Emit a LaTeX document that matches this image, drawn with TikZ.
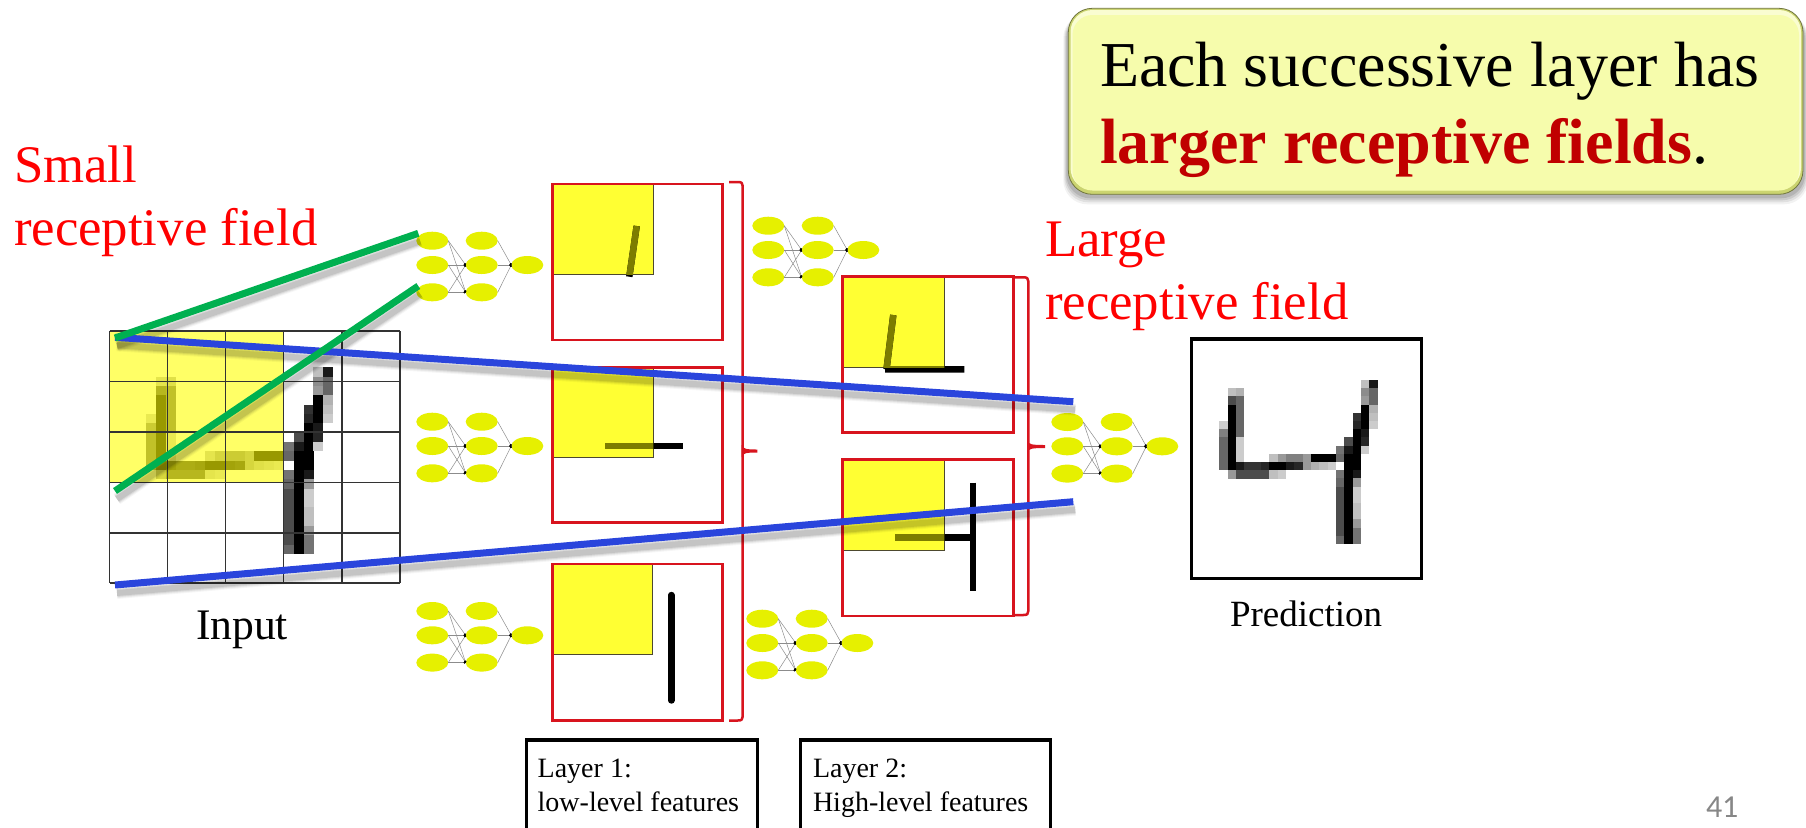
\documentclass[tikz,border=0pt]{standalone}
\usepackage{fontspec}
\setmainfont{Liberation Serif}
\newfontfamily\pagenofont{Carlito}
\usetikzlibrary{shapes.geometric,calc,arrows.meta}

\definecolor{cellyellow}{HTML}{FFFF00}
\definecolor{mapyellow}{HTML}{FFFF33}
\definecolor{mapolive}{HTML}{7D7D00}
\definecolor{neuronfill}{HTML}{E6F000}
\definecolor{boxred}{HTML}{D8141E}
\definecolor{linkblue}{HTML}{2A45DC}
\definecolor{linkgreen}{HTML}{00B050}
\definecolor{calloutfill}{HTML}{F6FCAC}
\definecolor{calloutedge}{HTML}{CBD470}
\definecolor{strongred}{HTML}{C00000}

\tikzset{
  x=.5pt, y=-.5pt,
  neuron/.style={ellipse, fill=neuronfill, draw=none, minimum width=16pt, minimum height=9pt, inner sep=0pt, outer sep=0pt},
  synapse/.style={draw=black!45, line width=.25pt},
  dotted synapse/.style={synapse, -{Circle[length=1.1pt,black]}},
  mapframe/.style={draw=boxred, line width=1.25pt},
  bracketline/.style={draw=boxred, line width=1.25pt},
  blackframe/.style={draw=black, line width=1.7pt},
  gridline/.style={draw=black!80, line width=.7pt},
  link/.style={line width=3.5pt},
  stroke/.style={line width=3.2pt},
  label/.style={anchor=base west, inner sep=0pt, outer sep=0pt, align=left},
  redlabel/.style={label, text=red, font=\fontsize{26.4}{31.5}\selectfont}
}

% One small three-layer network: #1 name prefix, (#2,#3) centre of the first column
\newcommand\feednet[3]{
  \node[neuron] (#1a) at (#2,#3-24.3) {};
  \node[neuron] (#1b) at (#2,#3) {};
  \node[neuron] (#1c) at (#2,#3+27.3) {};
  \node[neuron] (#1d) at (#2+49.4,#3-24.3) {};
  \node[neuron] (#1e) at (#2+49.4,#3) {};
  \node[neuron] (#1f) at (#2+49.4,#3+27.3) {};
  \node[neuron] (#1g) at (#2+95,#3) {};
  \foreach \from in {a,b,c}
    \foreach \to in {e,f}
      \draw[dotted synapse] (#1\from.east) -- (#1\to.west);
  \foreach \from in {d,e,f}
    \draw[dotted synapse] (#1\from.east) -- (#1g.west);
}

% Feature map: frame x0,y0,x1,y1 plus the yellow window x2,y2 and stroke path #7
\newcommand\featuremap[7]{
  \fill[mapyellow] (#1,#2) rectangle (#5,#6);
  \draw[black!60!olive, line width=.5pt] (#5,#2) -- (#5,#6) -- (#1,#6);
  \draw[stroke, black] #7;
  \begin{scope}
    \clip (#1,#2) rectangle (#5,#6);
    \draw[stroke, mapolive] #7;
  \end{scope}
  \draw[mapframe] (#1,#2) rectangle (#3,#4);
}

% Right bracket: x0 start, x1 spine, y top, y bottom, tip y, tip x
\newcommand\layerbracket[6]{
  \draw[bracketline, line join=round] (#1,#3) -- (#2-5,#3) .. controls (#2-1,#3) and (#2,#3+1) .. (#2,#3+4)
    -- (#2,#4-4) .. controls (#2,#4-1) and (#2-1,#4) .. (#2-5,#4) -- (#1,#4);
  \fill[boxred] (#2-1,#5-6) .. controls (#2,#5-2) and (#2+4,#5-1.5) .. (#6,#5-1.5)
    -- (#6,#5+1.5) .. controls (#2+4,#5+1.5) and (#2,#5+2) .. (#2-1,#5+6) -- cycle;
}

% Soft drop shadow along a straight link
\newcommand\linkshadow[2]{
  \foreach \w/\o in {6/.035,5/.05,4/.07,3/.09}
    \draw[black, opacity=\o, line width=\w pt] ($(#1)+(2,8)$) -- ($(#2)+(2,8)$);
}

% Handwritten four as grey cells: column/row/darkness
\def\digitcells{18/0/90,17/0/25,
1/1/25,2/1/30,17/1/45,18/1/60,
1/2/70,2/2/60,17/2/40,18/2/60,
1/3/100,2/3/60,17/3/100,18/3/30,
1/4/100,2/4/60,16/4/80,17/4/100,18/4/25,
0/5/20,1/5/100,2/5/60,16/5/85,17/5/100,18/5/20,
0/6/50,1/6/100,2/6/60,16/6/100,17/6/90,
0/7/60,1/7/100,2/7/20,15/7/70,16/7/100,17/7/85,
0/8/60,1/8/100,2/8/20,14/8/55,15/8/90,16/8/100,17/8/20,
0/9/60,1/9/100,2/9/20,6/9/25,7/9/40,8/9/50,9/9/50,10/9/40,11/9/100,12/9/100,13/9/100,14/9/60,15/9/100,16/9/100,
0/10/60,1/10/100,2/10/90,3/10/80,4/10/80,5/10/85,6/10/100,7/10/100,8/10/90,9/10/85,10/10/40,11/10/30,12/10/25,13/10/20,15/10/100,16/10/100,
1/11/40,2/11/70,3/11/70,4/11/70,5/11/70,6/11/25,7/11/20,14/11/55,15/11/100,16/11/90,
14/12/60,15/12/100,16/12/40,
14/13/70,15/13/100,16/13/20,
14/14/70,15/14/100,16/14/20,
14/15/70,15/15/100,16/15/25,
14/16/70,15/16/100,16/16/25,
14/17/70,15/17/100,16/17/40,
14/18/70,15/18/100,16/18/55,
14/19/60,15/19/100,16/19/55}
\newcommand\handdigit[4]{
  \foreach \pc/\pr/\pv in \digitcells
    \fill[black!\pv] (#1+#3*\pc,#2+#4*\pr) rectangle (#1+#3*\pc+#3*1.02,#2+#4*\pr+#4*1.02);
}

\begin{document}
\begin{tikzpicture}
\useasboundingbox (0,0) rectangle (1806,827);
\fill[white] (0,0) rectangle (1806,827);

% Input image with its grid and the yellow window
\handdigit{146.3}{367.3}{9.83}{9.33}
\fill[cellyellow, opacity=.6] (109.5,331) rectangle (283.7,482.7);
\foreach \gx in {109.5,167.7,225.7,283.7,342,400}
  \draw[gridline] (\gx,331) -- (\gx,583);
\foreach \gy in {331,381.7,432,482.7,533,583}
  \draw[gridline] (109.5,\gy) -- (400,\gy);
\node[label, font=\fontsize{21.8}{26}\selectfont] (inputlabel) at (196,639) {Input};

% First layer networks and maps
\feednet{na}{432.3}{265}
\feednet{nb}{432.3}{446}
\feednet{nc}{432.3}{635.3}
\featuremap{552.7}{184}{722.7}{340}{653.3}{274.7}{(636.7,226) -- (629.3,276.7)}
\featuremap{552.7}{367.3}{722.7}{522.7}{653.3}{457.3}{(605,445.7) -- (683.3,445.7)}
\featuremap{552.7}{564}{722.7}{720.7}{652.3}{654}{[line cap=round] (671.3,595) -- (671.3,700.5)}
\layerbracket{729}{742.7}{182}{720.5}{451}{757.3}

% Second layer networks and maps
\feednet{nd}{768.3}{250}
\feednet{ne}{762.3}{643}
\featuremap{842.7}{276.7}{1013.3}{432.3}{944.3}{367.3}{(893.3,315) -- (886.5,369.3) (885,369.3) -- (964.3,369.3)}
\featuremap{842.7}{459.3}{1013.3}{616}{944.3}{550.7}{(895,537.3) -- (972.7,537.3) (972.7,482.7) -- (972.7,591)}
\layerbracket{1013.3}{1028.3}{277.3}{615}{446.5}{1045}

% Output network and prediction
\feednet{nf}{1067.3}{446.3}
\draw[blackframe] (1191.7,339) rectangle (1421.7,578.3);
\handdigit{1219.3}{380}{8.33}{8.2}
\node[label, font=\fontsize{18.5}{22}\selectfont] (predlabel) at (1230,626.7) {Prediction};

% Receptive field links
\coordinate (blueA) at (115,337.3);
\coordinate (blueB) at (1073.3,401.7);
\coordinate (blueC) at (115,585);
\coordinate (blueD) at (1073.3,501.7);
\coordinate (greenA) at (115,338);
\coordinate (greenB) at (418.3,233.3);
\coordinate (greenC) at (115,491);
\coordinate (greenD) at (418.3,286);
\linkshadow{blueA}{blueB}
\linkshadow{blueC}{blueD}
\linkshadow{greenA}{greenB}
\linkshadow{greenC}{greenD}
\draw[link, linkblue] (blueA) -- (blueB);
\draw[link, linkblue] (blueC) -- (blueD);
\draw[link, linkgreen] (greenA) -- (greenB);
\draw[link, linkgreen] (greenC) -- (greenD);

% Layer captions, running off the lower edge of the page
\draw[blackframe] (526.7,830) -- (526.7,740) -- (757.3,740) -- (757.3,830);
\node[label, font=\fontsize{14}{17}\selectfont] (layerone) at (537.7,811.7) {Layer 1:\\low-level features};
\draw[blackframe] (800.7,830) -- (800.7,740) -- (1050.6,740) -- (1050.6,830);
\node[label, font=\fontsize{14}{17}\selectfont] (layertwo) at (813,811.7) {Layer 2:\\High-level features};

% Red annotations
\node[redlabel] (smallfield) at (14,245) {Small\\receptive field};
\node[redlabel] (largefield) at (1045,319) {Large\\receptive field};

% Callout
\foreach \sh/\o in {10/.05,8/.07,6/.09,4/.11}
  \fill[black, opacity=\o, rounded corners=12pt] (1068.3-\sh/2,14) rectangle (1803+\sh/2,194.3+\sh);
\fill[calloutedge, rounded corners=12pt] (1068.3,8.3) rectangle (1803,194.3);
\fill[white!45!calloutfill, rounded corners=11pt] (1070.5,10) rectangle (1801,190);
\fill[calloutfill, rounded corners=10pt] (1072.5,15) rectangle (1799,190.5);
\draw[black!45!calloutedge, line width=.4pt, rounded corners=12pt] (1068.3,8.3) rectangle (1803,194.3);
\node[label, font=\fontsize{32}{38.3}\selectfont] (callout) at (1100,163.3)
  {Each successive layer has\\\textcolor{strongred}{\textbf{larger receptive fields}}.};

% Page number
\node[label, text=black!47, font=\pagenofont\fontsize{16}{19}\selectfont] (pageno) at (1706,817.7) {41};
\end{tikzpicture}
\end{document}
